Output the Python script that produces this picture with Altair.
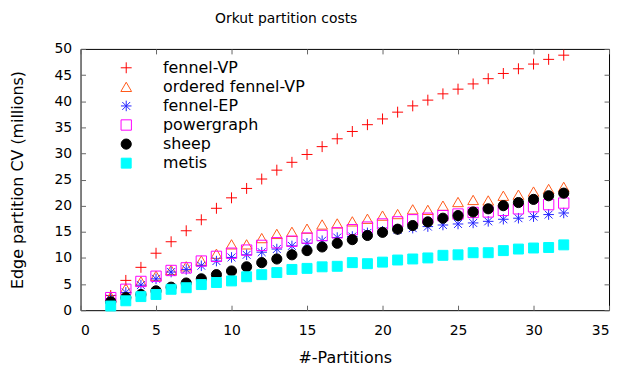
import altair as alt
import pandas as pd

partitions = list(range(2, 33))

fennel_vp = [2.8, 5.7, 8.2, 10.9, 13.1, 15.2, 17.3, 19.5, 21.5, 23.3, 25.1,
             26.8, 28.3, 29.8, 31.3, 32.8, 34.2, 35.5, 36.6, 37.9, 39.1, 40.2,
             41.4, 42.3, 43.3, 44.3, 45.3, 46.2, 47.1, 48.0, 48.8]
ordered_fennel_vp = [2.6, 4.2, 5.5, 6.6, 7.7, 8.4, 9.5, 10.8, 12.6, 12.6, 13.8,
                     14.6, 15.0, 15.6, 16.4, 16.6, 17.0, 17.5, 18.1, 18.4, 19.3,
                     19.2, 20.0, 20.7, 21.1, 21.0, 21.9, 22.1, 22.7, 23.2, 23.6]
fennel_ep = [2.2, 3.4, 4.8, 6.0, 7.3, 7.8, 8.5, 9.4, 10.1, 10.6, 11.1,
             11.7, 12.3, 12.8, 13.3, 13.9, 14.1, 14.8, 15.1, 15.4, 15.7,
             16.0, 16.3, 16.5, 16.7, 17.0, 17.4, 17.6, 17.9, 18.3, 18.6]
powergraph = [2.4, 4.0, 5.5, 6.5, 7.6, 8.1, 9.4, 10.3, 10.9, 11.5, 12.4,
              12.9, 13.2, 13.8, 14.3, 14.8, 15.4, 15.9, 16.5, 16.9, 17.3,
              17.6, 18.1, 18.4, 18.7, 18.8, 19.1, 19.4, 19.8, 20.2, 20.5]
sheep = [1.6, 2.4, 3.0, 3.7, 4.4, 5.2, 6.0, 6.8, 7.5, 8.3, 9.1,
         9.8, 10.6, 11.4, 12.1, 12.8, 13.5, 14.3, 14.9, 15.5, 16.2,
         16.9, 17.6, 18.1, 18.8, 19.4, 20.0, 20.6, 21.2, 21.9, 22.4]
metis = [0.8, 1.8, 2.6, 3.0, 4.0, 4.3, 4.9, 5.3, 5.6, 6.4, 6.8,
         7.2, 7.8, 8.0, 8.3, 8.4, 9.1, 8.9, 9.2, 9.6, 9.8,
         10.0, 10.5, 10.6, 11.0, 11.0, 11.4, 11.7, 11.9, 12.0, 12.5]

names = ["fennel-VP", "ordered fennel-VP", "fennel-EP", "powergraph", "sheep", "metis"]
series = [fennel_vp, ordered_fennel_vp, fennel_ep, powergraph, sheep, metis]
x_ticks = [0, 5, 10, 15, 20, 25, 30, 35]
y_ticks = [0, 5, 10, 15, 20, 25, 30, 35, 40, 45, 50]

strokes = ["#ff0000", "#ff5a1a", "#2424ff", "#ff00ff", "#000000", "#00ffff"]
fills = ["transparent", "transparent", "transparent", "transparent", "#000000", "#00ffff"]
plus = "M-1,0L1,0M0,-1L0,1"
star = "M-1,0L1,0M0,-1L0,1M-0.75,-0.75L0.75,0.75M-0.75,0.75L0.75,-0.75"
shapes = [plus, "triangle-up", star, "square", "circle", "square"]
sizes = [121, 100, 100, 100, 130, 121]

rows = []
for i, (n, vals) in enumerate(zip(names, series)):
    for p, v in zip(partitions, vals):
        rows.append({"series": n, "partitions": p, "cv": v})
df = pd.DataFrame(rows)

FONT = "DejaVu Sans"

xscale = alt.Scale(domain=[0, 35], nice=False, zero=False)
yscale = alt.Scale(domain=[0, 50], nice=False, zero=False)

legend = alt.Legend(title=None, orient="none", legendX=38, legendY=11,
                    labelFont=FONT, labelFontSize=16, labelColor="black",
                    labelOffset=29, rowPadding=3.2, symbolStrokeWidth=1,
                    padding=0)

points = alt.Chart(df).mark_point(opacity=1, strokeWidth=1).encode(
    x=alt.X("partitions:Q", scale=xscale,
            axis=alt.Axis(values=x_ticks, title="#-Partitions", format="d",
                          offset=-5, tickSize=5, domain=False, grid=False,
                          labelPadding=13, titlePadding=13)),
    y=alt.Y("cv:Q", scale=yscale,
            axis=alt.Axis(values=y_ticks, title="Edge partition CV (millions)",
                          format="d", offset=-5, tickSize=5, domain=False,
                          grid=False, labelPadding=9, titlePadding=29)),
    stroke=alt.Stroke("series:N", scale=alt.Scale(domain=names, range=strokes), legend=legend),
    fill=alt.Fill("series:N", scale=alt.Scale(domain=names, range=fills), legend=legend),
    shape=alt.Shape("series:N", scale=alt.Scale(domain=names, range=shapes), legend=legend),
    size=alt.Size("series:N", scale=alt.Scale(domain=names, range=sizes), legend=legend),
)

mirror = alt.Chart(df).mark_point(opacity=0).encode(
    x=alt.X("partitions:Q", scale=xscale,
            axis=alt.Axis(orient="top", values=x_ticks, labels=False, title=None,
                          offset=-5, tickSize=5, domain=False, grid=False)),
    y=alt.Y("cv:Q", scale=yscale,
            axis=alt.Axis(orient="right", values=y_ticks, labels=False, title=None,
                          offset=-5, tickSize=5, domain=False, grid=False)),
)

chart = alt.layer(points, mirror).resolve_axis(
    x="independent", y="independent"
).properties(
    width=532, height=263,
    title=alt.Title("Orkut partition costs", fontSize=14, font=FONT,
                    fontWeight="normal", anchor="middle", dx=-59, offset=16,
                    color="black"),
    autosize=alt.AutoSizeParams(type="none"),
    padding={"left": 73, "top": 40, "right": 5, "bottom": 56},
).configure_view(
    stroke="black", strokeWidth=1
).configure_axis(
    labelFont=FONT, titleFont=FONT, labelFontSize=14, titleFontSize=16,
    titleFontWeight="normal", labelColor="black", titleColor="black",
    tickColor="#666666", tickWidth=1
)

chart.save("out.html", embed_options={"renderer": "svg", "actions": False})
